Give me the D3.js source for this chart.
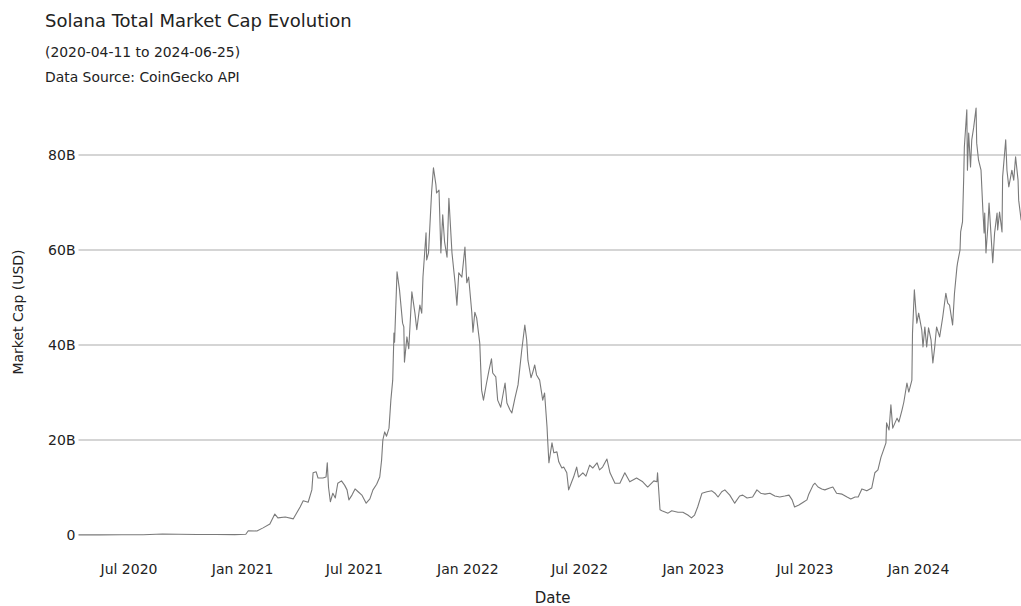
<!DOCTYPE html>
<html>
<head>
<meta charset="utf-8">
<script src="https://cdn.jsdelivr.net/npm/d3@7"></script>
<style>
  body { margin: 0; background: #fff; }
  svg text { font-family: "DejaVu Sans", Verdana, sans-serif; fill: #222; }
</style>
</head>
<body>
<svg id="chart" width="1021" height="606"></svg>
<script>

//// DATA (market cap in billions USD)

var dates = [
  "2020-04-11","2020-05-15","2020-06-20","2020-07-25","2020-08-25","2020-09-20","2020-10-20","2020-11-20","2020-12-20",
  "2021-01-07","2021-01-11","2021-01-25","2021-02-04","2021-02-15","2021-02-23","2021-02-28","2021-03-12","2021-03-25",
  "2021-04-05","2021-04-10","2021-04-18","2021-04-24","2021-04-26","2021-05-01","2021-05-04","2021-05-12","2021-05-17",
  "2021-05-19","2021-05-21","2021-05-24","2021-05-28","2021-06-01","2021-06-05","2021-06-11","2021-06-16","2021-06-20",
  "2021-06-23","2021-06-28","2021-07-03","2021-07-08","2021-07-14","2021-07-21","2021-07-27","2021-08-01","2021-08-07",
  "2021-08-12","2021-08-15","2021-08-17","2021-08-20","2021-08-23","2021-08-27","2021-08-30","2021-09-02","2021-09-04",
  "2021-09-05","2021-09-09","2021-09-13","2021-09-18","2021-09-20","2021-09-21","2021-09-25","2021-09-28","2021-10-03",
  "2021-10-08","2021-10-11","2021-10-16","2021-10-19","2021-10-21","2021-10-26","2021-10-27","2021-10-30","2021-11-04",
  "2021-11-07","2021-11-11","2021-11-12","2021-11-16","2021-11-19","2021-11-22","2021-11-25","2021-11-29","2021-12-02",
  "2021-12-07","2021-12-12","2021-12-15","2021-12-18","2021-12-23","2021-12-28","2021-12-31","2022-01-03","2022-01-08",
  "2022-01-10","2022-01-13","2022-01-16","2022-01-21","2022-01-24","2022-01-27","2022-02-01","2022-02-05","2022-02-09",
  "2022-02-11","2022-02-16","2022-02-19","2022-02-24","2022-02-27","2022-03-03","2022-03-06","2022-03-11","2022-03-14",
  "2022-03-19","2022-03-24","2022-03-30","2022-04-04","2022-04-07","2022-04-09","2022-04-14","2022-04-17","2022-04-20",
  "2022-04-23","2022-04-28","2022-05-03","2022-05-06","2022-05-10","2022-05-11","2022-05-13","2022-05-18","2022-05-21",
  "2022-05-26","2022-05-29","2022-06-03","2022-06-06","2022-06-11","2022-06-14","2022-06-19","2022-06-22","2022-06-27",
  "2022-06-30","2022-07-07","2022-07-12","2022-07-18","2022-07-23","2022-07-30","2022-08-03","2022-08-08","2022-08-15",
  "2022-08-20","2022-08-28","2022-09-05","2022-09-13","2022-09-21","2022-10-02","2022-10-12","2022-10-20","2022-10-30",
  "2022-11-04","2022-11-05","2022-11-09","2022-11-12","2022-11-22","2022-11-28","2022-12-08","2022-12-16","2022-12-24",
  "2022-12-30","2023-01-04","2023-01-09","2023-01-16","2023-01-24","2023-02-01","2023-02-06","2023-02-11","2023-02-17",
  "2023-02-22","2023-03-02","2023-03-10","2023-03-18","2023-03-23","2023-03-30","2023-04-08","2023-04-15","2023-04-21",
  "2023-04-28","2023-05-06","2023-05-14","2023-05-22","2023-05-30","2023-06-06","2023-06-11","2023-06-15","2023-06-22",
  "2023-06-29","2023-07-05","2023-07-08","2023-07-15","2023-07-18","2023-07-23","2023-07-29","2023-08-03","2023-08-11",
  "2023-08-16","2023-08-22","2023-08-31","2023-09-08","2023-09-14","2023-09-21","2023-09-26","2023-10-02","2023-10-10",
  "2023-10-18","2023-10-23","2023-10-28","2023-11-02","2023-11-05","2023-11-10","2023-11-11","2023-11-15","2023-11-18",
  "2023-11-21","2023-11-28","2023-12-01","2023-12-06","2023-12-09","2023-12-14","2023-12-17","2023-12-22","2023-12-23",
  "2023-12-26","2023-12-30","2024-01-02","2024-01-07","2024-01-09","2024-01-12","2024-01-15","2024-01-18","2024-01-22",
  "2024-01-25","2024-01-28","2024-01-31","2024-02-05","2024-02-10","2024-02-15","2024-02-18","2024-02-21","2024-02-26",
  "2024-02-29","2024-03-04","2024-03-05","2024-03-09","2024-03-10","2024-03-13","2024-03-15","2024-03-16","2024-03-20",
  "2024-03-21","2024-03-23","2024-03-26","2024-03-28","2024-03-31","2024-04-04","2024-04-05","2024-04-08","2024-04-12",
  "2024-04-15","2024-04-17","2024-04-18","2024-04-20","2024-04-23","2024-04-25","2024-04-28","2024-05-01","2024-05-04",
  "2024-05-08","2024-05-09","2024-05-12","2024-05-16","2024-05-17","2024-05-22","2024-05-24","2024-05-27","2024-06-01",
  "2024-06-04","2024-06-07","2024-06-11","2024-06-12","2024-06-16","2024-06-20","2024-06-25"
];

var marketCapB = [
  0.03, 0.03, 0.05, 0.06, 0.2, 0.15, 0.1, 0.1, 0.08,
  0.15, 0.9, 0.85, 1.5, 2.3, 4.4, 3.6, 3.8, 3.4,
  5.9, 7.2, 6.9, 9.5, 13.1, 13.3, 12.0, 12.0, 12.2,
  15.2, 10.1, 7.0, 8.8, 7.8, 10.9, 11.4, 10.5, 9.5,
  7.4, 8.4, 9.7, 9.1, 8.4, 6.7, 7.6, 9.5, 10.7,
  12.2, 15.8, 20.0, 21.7, 20.8, 22.5, 28.4, 32.6, 42.5,
  40.6, 55.4, 51.6, 44.6, 43.8, 36.4, 41.7, 39.2, 51.2,
  46.7, 43.2, 48.4, 46.7, 54.3, 63.6, 57.9, 59.4, 72.2,
  77.3, 73.7, 72.0, 72.6, 59.4, 67.4, 61.7, 58.5, 70.9,
  59.4, 53.1, 48.4, 55.2, 54.3, 60.6, 53.1, 54.3, 47.0,
  42.7, 46.9, 45.7, 40.4, 30.5, 28.4, 32.0, 34.7, 37.1,
  34.1, 33.3, 28.4, 26.9, 29.1, 32.0, 27.8, 26.3, 25.7,
  28.8, 31.6, 38.9, 44.2, 41.1, 36.8, 33.1, 34.3, 35.8,
  33.7, 32.6, 28.4, 29.9, 22.7, 20.0, 15.2, 19.4, 17.3,
  17.5, 15.4, 14.1, 14.3, 13.1, 9.5, 11.2, 12.2, 14.3,
  12.2, 13.1, 12.4, 14.7, 14.1, 15.2, 13.7, 14.3, 16.0,
  13.1, 10.9, 10.9, 13.1, 11.2, 12.0, 11.2, 10.1, 11.4,
  11.2, 13.1, 5.3, 5.1, 4.6, 5.1, 4.8, 4.8, 4.2,
  3.6, 4.2, 5.9, 8.8, 9.1, 9.3, 8.8, 8.0, 9.1,
  9.5, 8.4, 6.7, 8.2, 8.4, 7.8, 8.0, 9.5, 8.8,
  8.6, 8.8, 8.2, 8.0, 8.2, 8.4, 7.4, 5.9, 6.3,
  6.9, 7.4, 8.6, 10.5, 10.9, 10.1, 9.7, 9.5, 9.9,
  10.1, 8.8, 8.6, 8.0, 7.6, 8.0, 8.0, 9.7, 9.3,
  9.9, 13.1, 13.7, 16.4, 17.5, 19.4, 23.6, 22.1, 27.4,
  22.5, 24.6, 23.8, 26.3, 28.0, 32.0, 30.1, 32.6, 42.5,
  51.6, 44.6, 46.7, 43.2, 39.6, 43.8, 39.6, 43.6, 41.1,
  36.2, 39.6, 43.8, 41.7, 45.9, 50.9, 48.8, 48.4, 44.2,
  50.9, 56.4, 57.3, 60.0, 63.8, 65.9, 75.4, 81.7, 89.5,
  76.8, 84.6, 77.5, 83.2, 85.7, 89.9, 82.5, 78.9, 76.8,
  68.4, 63.6, 67.8, 59.4, 64.8, 69.9, 63.6, 57.3, 63.6,
  67.8, 64.2, 68.0, 63.8, 75.4, 83.2, 76.8, 73.3, 76.8,
  74.7, 79.6, 74.7, 70.5, 66.3, 68.0, 66.0
];

// Axis ticks
var xTickDates = ["2020-07-01","2021-01-01","2021-07-01","2022-01-01","2022-07-01","2023-01-01","2023-07-01","2024-01-01"];
var yTickValues = [0, 20, 40, 60, 80];
var yTickLabels = ["0", "20B", "40B", "60B", "80B"];

var titleText = "Solana Total Market Cap Evolution";
var subtitleLines = ["(2020-04-11 to 2024-06-25)", "Data Source: CoinGecko API"];


//// LAYOUT

var svg = d3.select("#chart");
var plotLeft = 78.5, plotRight = 1026.7;   // right edge runs a bit past the window
var parseDate = d3.utcParse("%Y-%m-%d");

var series = dates.map(function(d, i) {
    return { date: parseDate(d), value: marketCapB[i] };
});

var x = d3.scaleUtc()
    .domain([parseDate(dates[0]), parseDate(dates[dates.length - 1])])
    .range([plotLeft, plotRight]);

var y = d3.scaleLinear()
    .domain([0, 80])
    .range([535, 155]);


//// GRID + AXES

// horizontal gridlines (no line at zero)
svg.append("g")
    .selectAll("line")
    .data(yTickValues.filter(function(v) { return v > 0; }))
    .enter()
    .append("line")
    .attr("x1", plotLeft)
    .attr("x2", 1021)
    .attr("y1", function(d) { return y(d); })
    .attr("y2", function(d) { return y(d); })
    .attr("stroke", "#ababab")
    .attr("stroke-width", 1.1);

// y axis labels
var yAxis = d3.axisLeft(y)
    .tickValues(yTickValues)
    .tickFormat(function(d, i) { return yTickLabels[i]; })
    .tickSize(0)
    .tickPadding(2);

var gy = svg.append("g")
    .attr("transform", "translate(" + (plotLeft - 1) + ",0)")
    .call(yAxis);
gy.select(".domain").remove();
gy.selectAll("text").style("font-size", "14px").attr("fill", "#222");

// x axis labels
var xAxis = d3.axisBottom(x)
    .tickValues(xTickDates.map(parseDate))
    .tickFormat(d3.utcFormat("%b %Y"))
    .tickSize(0)
    .tickPadding(0);

var gx = svg.append("g")
    .attr("transform", "translate(0,564)")
    .call(xAxis);
gx.select(".domain").remove();
gx.selectAll("text").style("font-size", "14px").attr("fill", "#222");


//// LINE

var line = d3.line()
    .x(function(d) { return x(d.date); })
    .y(function(d) { return y(d.value); });

svg.append("path")
    .datum(series)
    .attr("d", line)
    .attr("fill", "none")
    .attr("stroke", "#7a7a7a")
    .attr("stroke-width", 1.1)
    .attr("stroke-linejoin", "round");


//// TEXTS

svg.append("text")
    .attr("x", 45)
    .attr("y", 27)
    .style("font-size", "18px")
    .text(titleText);

svg.selectAll(".subtitle")
    .data(subtitleLines)
    .enter()
    .append("text")
    .attr("class", "subtitle")
    .attr("x", 45)
    .attr("y", function(d, i) { return 57 + i * 25; })
    .style("font-size", "13.9px")
    .text(function(d) { return d; });

// axis titles
svg.append("text")
    .attr("x", (plotLeft + plotRight) / 2)
    .attr("y", 603)
    .attr("text-anchor", "middle")
    .style("font-size", "15px")
    .text("Date");

svg.append("text")
    .attr("transform", "translate(23,312) rotate(-90)")
    .attr("text-anchor", "middle")
    .style("font-size", "14px")
    .text("Market Cap (USD)");

</script>
</body>
</html>
